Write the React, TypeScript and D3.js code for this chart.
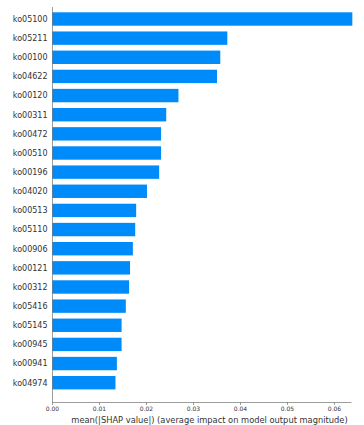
import React from "react";
import * as d3 from "d3";

// Features ordered from most to least important (top to bottom)
const features: string[] = [
  "ko05100", "ko05211", "ko00100", "ko04622", "ko00120",
  "ko00311", "ko00472", "ko00510", "ko00196", "ko04020",
  "ko00513", "ko05110", "ko00906", "ko00121", "ko00312",
  "ko05416", "ko05145", "ko00945", "ko00941", "ko04974",
];

// mean(|SHAP value|) per feature
const meanAbsShap: number[] = [
  0.0638, 0.0372, 0.0357, 0.0350, 0.0268,
  0.0242, 0.0231, 0.0231, 0.0227, 0.0201,
  0.0178, 0.0176, 0.0171, 0.0165, 0.0163,
  0.0156, 0.0147, 0.0147, 0.0137, 0.0134,
];

const xTicks: number[] = [0, 0.01, 0.02, 0.03, 0.04, 0.05, 0.06];

const xLabel = "mean(|SHAP value|) (average impact on model output magnitude)";

const W = 364;
const H = 425;
const BAR_COLOR = "#008bfb";
const AXIS_COLOR = "#333333";
const FONT = "'DejaVu Sans', sans-serif";

export default function App() {
  const left = 52.5;
  const axisTop = 7;
  const axisBottom = 402.5;

  const x = d3.scaleLinear().domain([0, 0.0636]).range([left, 351.4]);
  const y = d3.scalePoint<string>().domain(features).range([19, 382.7]);
  const barH = y.step() * 0.7;

  const rows = features.map((f, i) => ({ f, v: meanAbsShap[i] }));

  return (
    <svg
      width={W}
      height={H}
      style={{ position: "absolute", left: 0, top: 0, background: "#fff" }}
      fontFamily={FONT}
    >
      {rows.map((r) => (
        <g key={r.f}>
          <rect
            x={x(0)}
            y={(y(r.f) as number) - barH / 2}
            width={x(r.v) - x(0)}
            height={barH}
            fill={BAR_COLOR}
          />
          <text
            x={left - 5}
            y={y(r.f) as number}
            dy="0.35em"
            textAnchor="end"
            fontSize={8}
            fill={AXIS_COLOR}
          >
            {r.f}
          </text>
        </g>
      ))}

      {/* left spine */}
      <line x1={left} x2={left} y1={axisTop} y2={axisBottom} stroke={AXIS_COLOR} strokeWidth={0.6} opacity={0.8} />
      {/* bottom spine */}
      <line x1={left} x2={x.range()[1]} y1={axisBottom} y2={axisBottom} stroke={AXIS_COLOR} strokeWidth={0.6} opacity={0.8} />

      {xTicks.map((t) => (
        <g key={t} transform={`translate(${x(t)},${axisBottom})`}>
          <line y1={0} y2={2.5} stroke={AXIS_COLOR} strokeWidth={0.6} opacity={0.8} />
          <text y={8.8} textAnchor="middle" fontSize={6} fill={AXIS_COLOR}>
            {d3.format(".2f")(t)}
          </text>
        </g>
      ))}

      <text x={209.5} y={422.5} textAnchor="middle" fontSize={8.3} fill={AXIS_COLOR}>
        {xLabel}
      </text>
    </svg>
  );
}
